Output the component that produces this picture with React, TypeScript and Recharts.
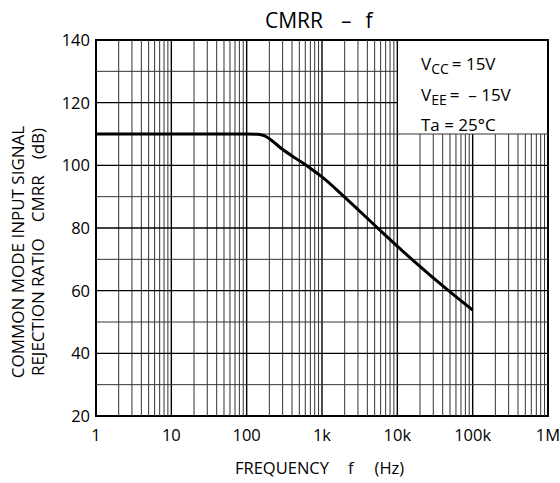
import React from "react";
import { LineChart, Line, XAxis, YAxis, ReferenceLine, ReferenceArea } from "recharts";

// CMRR vs frequency
const freqHz = [1, 10, 100, 140, 170, 200, 295, 443, 664, 1000, 1930, 5470, 15600, 47800, 100000];
const cmrrDb = [110, 110, 110, 109.9, 109.5, 108.5, 105.2, 102.3, 99.5, 96.3, 90.2, 80, 70, 60, 53.8];

const xTicks = [1, 10, 100, 1000, 10000, 100000, 1000000];
const xTickLabels = ["1", "10", "100", "1k", "10k", "100k", "1M"];
const yTicks = [20, 40, 60, 80, 100, 120, 140];
const yGridLines = [30, 40, 50, 60, 70, 80, 90, 100, 110, 120, 130];

// legend box corner (grid is left out above/right of it)
const boxFreq = 10000;
const boxDb = 110;

const data = freqHz.map((f, i) => ({ f, cmrr: cmrrDb[i] }));

const decades = [1, 10, 100, 1000, 10000, 100000];
const vGrid: { x: number; major: boolean }[] = [];
decades.forEach((d) => {
  for (let m = 1; m <= 9; m++) {
    if (d * m === 1) continue;
    vGrid.push({ x: d * m, major: m === 1 });
  }
});

const font = "'Open Sans', 'DejaVu Sans', sans-serif";
const subStyle: React.CSSProperties = { fontSize: 14, verticalAlign: "-4px" };

export default function App() {
  return (
    <div style={{ position: "absolute", left: 0, top: 0, width: 560, height: 483, fontFamily: font, background: "#fff", color: "#000" }}>
      <LineChart width={560} height={483} data={data} margin={{ top: 40, right: 12, bottom: 0, left: 0 }}>
        <XAxis
          dataKey="f"
          type="number"
          scale="log"
          domain={[1, 1000000]}
          ticks={xTicks}
          tickFormatter={(v: number) => xTickLabels[xTicks.indexOf(v)] ?? ""}
          allowDataOverflow
          axisLine={false}
          tickLine={false}
          tickSize={0}
          tickMargin={13}
          height={67}
          interval={0}
          tick={{ fill: "#000", fontSize: 16.5, fontFamily: font }}
        />
        <YAxis
          type="number"
          domain={[20, 140]}
          ticks={yTicks}
          allowDataOverflow
          axisLine={false}
          tickLine={false}
          tickSize={0}
          tickMargin={6}
          width={96}
          interval={0}
          tick={{ fill: "#000", fontSize: 16.5, fontFamily: font }}
        />

        {vGrid.map((g) => (
          <ReferenceLine
            key={"v" + g.x}
            segment={[
              { x: g.x, y: 20 },
              { x: g.x, y: g.x > boxFreq ? boxDb : 140 },
            ]}
            stroke={g.major ? "#000" : "#333"}
            strokeWidth={g.major ? 1.4 : 1}
          />
        ))}
        {yGridLines.map((y) => (
          <ReferenceLine
            key={"h" + y}
            segment={[
              { x: 1, y },
              { x: y > boxDb ? boxFreq : 1000000, y },
            ]}
            stroke={y % 20 === 0 ? "#000" : "#333"}
            strokeWidth={y % 20 === 0 ? 1.4 : 1}
          />
        ))}
        <ReferenceArea x1={1} x2={1000000} y1={20} y2={140} fill="none" stroke="#000" strokeWidth={2} />

        <Line
          type="monotone"
          dataKey="cmrr"
          stroke="#000"
          strokeWidth={3}
          dot={false}
          isAnimationActive={false}
        />
      </LineChart>

      {/* title */}
      <div style={{ position: "absolute", left: 265, top: 8, fontSize: 21, lineHeight: "24px", whiteSpace: "pre" }}>
        <span>CMRR</span>
        <span style={{ marginLeft: 18 }}>–</span>
        <span style={{ marginLeft: 14 }}>f</span>
      </div>

      {/* x axis title */}
      <div style={{ position: "absolute", left: 235, top: 458, fontSize: 16.5, lineHeight: "20px", whiteSpace: "pre" }}>
        <span>FREQUENCY</span>
        <span style={{ marginLeft: 19 }}>f</span>
        <span style={{ marginLeft: 21 }}>(Hz)</span>
      </div>

      {/* y axis title */}
      <div
        style={{
          position: "absolute",
          left: 28 - 150,
          top: 252 - 20,
          width: 300,
          height: 40,
          transform: "rotate(-90deg)",
          transformOrigin: "150px 20px",
          textAlign: "center",
          fontSize: 17,
          lineHeight: "20px",
          whiteSpace: "pre",
        }}
      >
        <div>{"COMMON MODE INPUT SIGNAL"}</div>
        <div>
          <span>REJECTION RATIO</span>
          <span style={{ marginLeft: 16 }}>CMRR</span>
          <span style={{ marginLeft: 16 }}>(dB)</span>
        </div>
      </div>

      {/* conditions */}
      <div style={{ position: "absolute", left: 421, top: 51, fontSize: 17, lineHeight: "25.5px", whiteSpace: "pre" }}>
        <div>
          V<span style={subStyle}>CC</span>
          <span style={{ marginLeft: 3 }}>{"= 15V"}</span>
        </div>
        <div>
          V<span style={subStyle}>EE</span>
          <span style={{ marginLeft: 3 }}>{"=  – 15V"}</span>
        </div>
        <div>{"Ta = 25°C"}</div>
      </div>
    </div>
  );
}
